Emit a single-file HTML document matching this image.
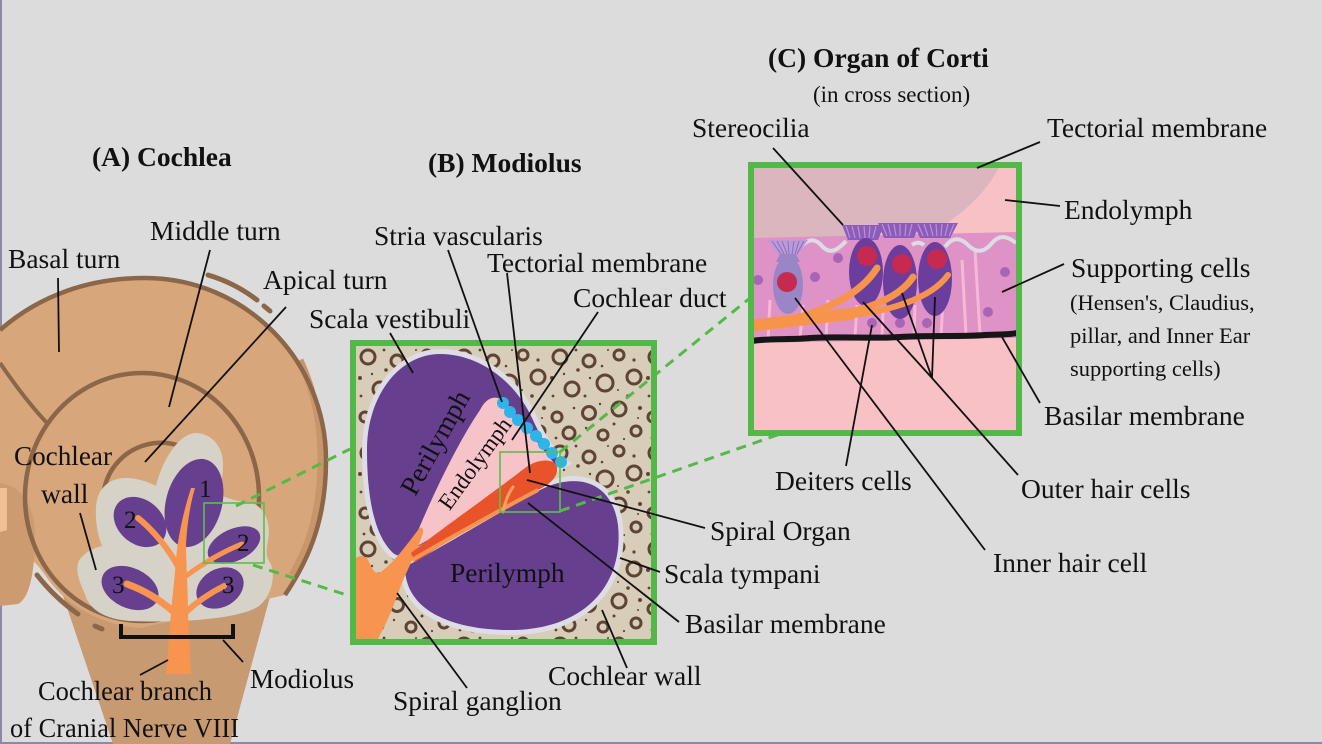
<!DOCTYPE html>
<html>
<head>
<meta charset="utf-8">
<style>
html,body{margin:0;padding:0;background:#dcdcdc;}
svg{display:block;}
text{font-family:"Liberation Serif","Times New Roman",serif;fill:#111;}
</style>
</head>
<body>
<svg width="1322" height="744" viewBox="0 0 1322 744" xmlns="http://www.w3.org/2000/svg">
<defs>
  <pattern id="bone" x="356" y="346" width="96" height="96" patternUnits="userSpaceOnUse">
    <rect width="96" height="96" fill="#d7cdb9"/>
    <g fill="none" stroke="#5f4433" stroke-width="3">
      <circle cx="12" cy="11" r="7"/>
      <circle cx="41" cy="15" r="6"/>
      <circle cx="71" cy="9" r="5"/>
      <circle cx="86" cy="31" r="7"/>
      <circle cx="57" cy="37" r="8"/>
      <circle cx="24" cy="43" r="7"/>
      <circle cx="9" cy="71" r="5"/>
      <circle cx="41" cy="67" r="6.5"/>
      <circle cx="71" cy="63" r="7"/>
      <circle cx="88" cy="85" r="5"/>
      <circle cx="21" cy="87" r="6"/>
      <circle cx="55" cy="89" r="5"/>
    </g>
    <g fill="#5f4433">
      <circle cx="30" cy="24" r="1.8"/>
      <circle cx="54" cy="20" r="1.3"/>
      <circle cx="4" cy="32" r="2"/>
      <circle cx="37" cy="50" r="1.5"/>
      <circle cx="80" cy="50" r="1.8"/>
      <circle cx="26" cy="62" r="1.3"/>
      <circle cx="92" cy="62" r="2"/>
      <circle cx="16" cy="28" r="1.2"/>
      <circle cx="28" cy="4" r="1.4"/>
      <circle cx="42" cy="32" r="1.2"/>
      <circle cx="5" cy="50" r="1.4"/>
      <circle cx="60" cy="4" r="1"/>
      <circle cx="86" cy="14" r="1.6"/>
      <circle cx="66" cy="78" r="1.5"/>
      <circle cx="38" cy="82" r="1.2"/>
      <circle cx="8" cy="92" r="1.4"/>
      <circle cx="76" cy="93" r="1.1"/>
      <circle cx="90" cy="72" r="1"/>
      <circle cx="52" cy="58" r="1.2"/>
      <circle cx="70" cy="44" r="1"/>
    </g>
  </pattern>
  <clipPath id="clipB"><rect x="356" y="346" width="295" height="293"/></clipPath>
  <clipPath id="clipC"><rect x="754" y="168" width="262" height="262"/></clipPath>
</defs>

<rect width="1322" height="744" fill="#dcdcdc"/>
<rect x="0" y="0" width="2" height="744" fill="#8c89a6"/>
<rect x="0" y="742" width="1322" height="2" fill="#8c89a6"/>

<!-- ===== PANEL A: Cochlea ===== -->
<polygon points="51,560 280,560 230,744 113,744" fill="#c89a72"/>
<path d="M0,330 C40,295 90,278 145,278 C245,278 326,360 326,460 C326,515 312,555 285,595 L140,628 C100,625 65,605 45,575 C35,560 20,548 0,545 Z" fill="#d8a67b"/>
<path d="M0,483 C20,485 35,505 35,535 C35,570 30,598 18,604 L0,606 Z" fill="#cd9b70"/>
<path d="M0,488 L7,488 L7,530 L0,532 Z" fill="#f0c195"/>
<path d="M300,360 C316,395 322,430 321,465 C320,510 310,545 292,575" fill="none" stroke="#c9966c" stroke-width="7"/>
<path d="M0,330 C40,295 90,278 145,278 C245,278 326,360 326,460 C326,515 312,555 285,595" fill="none" stroke="#8b6648" stroke-width="4.5"/>
<path d="M0,363 C15,385 30,405 47,423" fill="none" stroke="#8b6648" stroke-width="4"/>
<ellipse cx="142" cy="497" rx="117" ry="124" fill="none" stroke="#8b6648" stroke-width="4.5"/>
<path d="M104,490 A58 58 0 0 1 205,463" fill="none" stroke="#8b6648" stroke-width="4.5"/>
<path d="M208,275 Q235,283 257,300" fill="none" stroke="#8b6648" stroke-width="5" stroke-linecap="round"/>
<path d="M264,306 L270,311" fill="none" stroke="#8b6648" stroke-width="5" stroke-linecap="round"/>
<path d="M37,575 Q55,598 78,614" fill="none" stroke="#8b6648" stroke-width="5" stroke-linecap="round"/>
<path d="M95,626 L102,629" fill="none" stroke="#8b6648" stroke-width="5" stroke-linecap="round"/>

<path d="M195,433 C212,433 223,447 223,464 C223,476 221,486 218,494 C230,500 242,502 252,503 C266,508 271,525 268,540 C266,551 266,556 269,561 C277,573 272,596 259,606 C240,619 180,623 130,621 C100,619 88,606 85,594 C79,581 74,568 80,559 C86,551 95,548 102,546 C97,534 94,514 97,500 C100,486 112,478 125,478 C138,478 148,482 156,486 C161,465 176,435 195,433 Z" fill="#d6d2c7"/>

<g fill="#663f8f">
  <ellipse cx="194" cy="503" rx="28" ry="45" transform="rotate(15 194 503)"/>
  <ellipse cx="140" cy="522" rx="29" ry="22" transform="rotate(40 140 522)"/>
  <ellipse cx="234" cy="545" rx="28" ry="16" transform="rotate(-25 234 545)"/>
  <ellipse cx="130" cy="588" rx="30" ry="20" transform="rotate(25 130 588)"/>
  <ellipse cx="220" cy="588" rx="25" ry="19" transform="rotate(-30 220 588)"/>
</g>
<path d="M166,674 L191,674 L188,612 C188,590 186,560 186,545 C187,525 190,505 195,488 L191,488 C184,510 178,535 176,560 C174,585 172,600 171,612 Z" fill="#f7944f"/>
<g fill="none" stroke="#f7944f" stroke-linecap="round">
  <path d="M179,568 C168,548 153,530 138,518" stroke-width="6"/>
  <path d="M186,576 C205,562 222,552 242,544" stroke-width="5"/>
  <path d="M174,612 C160,600 144,590 127,584" stroke-width="7"/>
  <path d="M186,612 C198,601 210,593 224,586" stroke-width="6"/>
</g>
<g font-size="25">
  <text x="199" y="497">1</text>
  <text x="124" y="528">2</text>
  <text x="237" y="551">2</text>
  <text x="112" y="593">3</text>
  <text x="222" y="593">3</text>
</g>
<path d="M121,624 L121,637 L233,637 L233,624" fill="none" stroke="#111" stroke-width="4"/>
<rect x="204" y="503" width="60" height="60" fill="none" stroke="#5cbf4a" stroke-width="1.6"/>

<!-- ===== PANEL B: Modiolus ===== -->
<g clip-path="url(#clipB)">
  <rect x="353" y="343" width="301" height="299" fill="url(#bone)"/>
  <path d="M440,354 C478,354 515,380 533,420 C542,440 552,455 563,463 L412,550 C405,556 398,558 392,552 C375,535 367,500 367,450 C367,395 400,354 440,354 Z" fill="#dedde6" stroke="#dedde6" stroke-width="10"/>
  <path d="M405,567 C445,545 495,515 540,490 C575,472 612,480 618,525 C624,585 585,628 515,630 C455,631 405,612 405,567 Z" fill="#dedde6" stroke="#dedde6" stroke-width="10"/>
  <path d="M440,354 C478,354 515,380 533,420 C542,440 552,455 563,463 L412,550 C405,556 398,558 392,552 C375,535 367,500 367,450 C367,395 400,354 440,354 Z" fill="#663f8f"/>
  <path d="M405,567 C445,545 495,515 540,490 C575,472 612,480 618,525 C624,585 585,628 515,630 C455,631 405,612 405,567 Z" fill="#663f8f"/>
  <path d="M498,398 C490,396 484,402 480,410 C458,442 430,500 410,550 L558,468 L505,402 Z" fill="#f6c3c8"/>
  <g fill="#2db4e8">
    <circle cx="503" cy="403" r="6"/>
    <circle cx="510" cy="412" r="6"/>
    <circle cx="518" cy="420" r="6"/>
    <circle cx="527" cy="428" r="6"/>
    <circle cx="536" cy="436" r="6"/>
    <circle cx="544" cy="444" r="6"/>
    <circle cx="552" cy="453" r="6"/>
    <circle cx="561" cy="462" r="6"/>
  </g>
  <path d="M352,643 L352,566 C353,556 363,553 368,560 C372,568 375,576 381,572 C394,562 406,546 418,530 C420,526 424,527 423,533 C418,548 410,565 404,578 C397,595 392,612 384,627 L376,643 Z" fill="#f7944f"/>
  <path d="M411,553 C440,530 490,495 525,468 C538,458 556,458 557,468 C558,478 548,486 535,491 C500,510 450,540 415,562 Z" fill="#e9532a"/>
  <path d="M412,560 C450,538 500,510 538,490" fill="none" stroke="#f7944f" stroke-width="4"/>
  <path d="M503,512 C505,502 508,494 513,487" fill="none" stroke="#f7a060" stroke-width="3" stroke-linecap="round"/>
</g>
<rect x="353" y="343" width="301" height="299" fill="none" stroke="#52b847" stroke-width="6"/>
<rect x="500" y="452" width="60" height="60" fill="none" stroke="#5cbf4a" stroke-width="1.6"/>
<text font-size="27.5" transform="translate(443 447) rotate(-61)" text-anchor="middle">Perilymph</text>
<text font-size="23" transform="translate(481 468) rotate(-54)" text-anchor="middle">Endolymph</text>
<text x="450" y="582" font-size="27.5">Perilymph</text>

<!-- ===== PANEL C: Organ of Corti ===== -->
<g clip-path="url(#clipC)">
  <rect x="751" y="165" width="268" height="268" fill="#f8c1c6"/>
  <path d="M751,165 L1000,165 C990,186 972,207 940,228 L751,244 Z" fill="#dbb6be"/>
  <path d="M752,238 L1017,232 L1017,338 L752,343 Z" fill="#df92c6"/>
  <g stroke="#f4bad4" stroke-width="3" fill="none">
    <path d="M803,305 L800,338"/>
    <path d="M828,300 L826,338"/>
    <path d="M857,305 L855,337"/>
    <path d="M883,310 L882,337"/>
    <path d="M915,305 L914,337"/>
    <path d="M943,300 L941,336"/>
    <path d="M962,260 L966,335"/>
    <path d="M975,250 L980,335"/>
    <path d="M770,300 L768,340"/>
  </g>
  <g fill="#a865b5">
    <circle cx="758" cy="280" r="5"/>
    <circle cx="815" cy="277" r="5"/>
    <circle cx="838" cy="258" r="5"/>
    <circle cx="872" cy="323" r="5"/>
    <circle cx="900" cy="323" r="5"/>
    <circle cx="927" cy="323" r="5"/>
    <circle cx="988" cy="312" r="5"/>
    <circle cx="1005" cy="272" r="5"/>
  </g>
  <path d="M800,248 C808,238 815,238 822,246 C829,254 836,252 846,241" fill="none" stroke="#dcdce4" stroke-width="4"/>
  <path d="M945,247 C952,237 960,237 968,245 C976,253 984,253 992,243 C999,235 1006,235 1016,243" fill="none" stroke="#dcdce4" stroke-width="4"/>
  <path d="M912,245 C916,242 920,242 924,245" fill="none" stroke="#dcdce4" stroke-width="4"/>
  <path d="M768,240 L808,240 L797,256 L779,256 Z" fill="#b99bd8"/>
  <g stroke="#8e6cc0" stroke-width="1">
    <path d="M772,241 L781,254"/><path d="M777,241 L784,254"/><path d="M782,241 L787,254"/>
    <path d="M788,241 L789,254"/><path d="M794,241 L792,254"/><path d="M799,241 L795,254"/><path d="M804,241 L797,254"/>
  </g>
  <path d="M780,254 L796,254 L800,262 L776,262 Z" fill="#9a85c6"/>
  <ellipse cx="788" cy="285" rx="15" ry="29" fill="#9a85c6"/>
  <circle cx="787" cy="282" r="10" fill="#c62a50"/>
  <g fill="#8c5cb8">
    <path d="M842,225 L884,225 L878,240 L848,240 Z"/>
    <path d="M878,223 L920,223 L914,238 L884,238 Z"/>
    <path d="M913,223 L958,223 L950,238 L920,238 Z"/>
  </g>
  <g stroke="#b892dc" stroke-width="1.2">
    <path d="M846,226 L850,238"/><path d="M852,226 L855,238"/><path d="M858,226 L860,238"/><path d="M864,226 L865,238"/><path d="M870,226 L869,238"/><path d="M876,226 L873,238"/>
    <path d="M882,224 L887,236"/><path d="M888,224 L891,236"/><path d="M894,224 L896,236"/><path d="M900,224 L900,236"/><path d="M906,224 L905,236"/><path d="M912,224 L909,236"/>
    <path d="M918,224 L923,236"/><path d="M924,224 L928,236"/><path d="M930,224 L933,236"/><path d="M936,224 L937,236"/><path d="M942,224 L941,236"/><path d="M948,224 L945,236"/><path d="M954,224 L949,236"/>
  </g>
  <g fill="#6b3d9c">
    <ellipse cx="866" cy="272" rx="17" ry="34"/>
    <ellipse cx="900" cy="282" rx="17" ry="37"/>
    <ellipse cx="935" cy="279" rx="17" ry="37"/>
  </g>
  <g fill="#c62a50">
    <circle cx="867" cy="256" r="10"/>
    <circle cx="902" cy="264" r="10"/>
    <circle cx="937" cy="259" r="10"/>
  </g>
  <g fill="none" stroke="#f7944c" stroke-linecap="round">
    <path d="M752,326 C780,322 815,318 850,314" stroke-width="12"/>
    <path d="M790,320 C825,310 860,295 877,268" stroke-width="7"/>
    <path d="M820,318 C860,312 898,300 913,277" stroke-width="7"/>
    <path d="M845,316 C885,312 930,300 948,275" stroke-width="6"/>
  </g>
  <path d="M752,341 C770,338 790,340 810,338 C840,336 870,339 900,337 C930,335 960,337 985,335 C1000,334 1010,335 1017,333" fill="none" stroke="#161616" stroke-width="6"/>
</g>
<rect x="751" y="165" width="268" height="268" fill="none" stroke="#52b847" stroke-width="6"/>

<g stroke="#55b947" stroke-width="3" stroke-dasharray="10 7" fill="none">
  <path d="M236,506 L350,449"/>
  <path d="M253,565 L350,596"/>
  <path d="M560,452 L750,298"/>
  <path d="M560,511 L780,434"/>
</g>

<g stroke="#111" stroke-width="1.8" fill="none">
  <path d="M58,278 L59,352"/>
  <path d="M210,250 L169,407"/>
  <path d="M286,307 L145,462"/>
  <path d="M80,513 L96,570"/>
  <path d="M223,640 L243,662"/>
  <path d="M140,675 L168,660"/>

  <path d="M390,333 L413,373"/>
  <path d="M448,250 L502,402"/>
  <path d="M507,273 L530,473"/>
  <path d="M598,312 L512,440"/>
  <path d="M527,480 L705,528"/>
  <path d="M528,503 L679,622"/>
  <path d="M620,558 L660,572"/>
  <path d="M602,610 L627,668"/>
  <path d="M397,593 L467,688"/>

  <path d="M773,148 L843,225"/>
  <path d="M1040,142 L977,168"/>
  <path d="M1005,200 L1060,206"/>
  <path d="M1002,292 L1064,264"/>
  <path d="M1002,337 L1040,403"/>
  <path d="M872,325 L846,466"/>
  <path d="M795,298 L985,550"/>
  <path d="M863,302 L932,378"/>
  <path d="M902,293 L932,378"/>
  <path d="M935,297 L932,378"/>
  <path d="M932,378 L1018,475"/>
</g>

<g font-size="27.5">
  <text x="92" y="166" font-weight="bold">(A) Cochlea</text>
  <text x="8" y="268">Basal turn</text>
  <text x="150" y="240">Middle turn</text>
  <text x="263" y="289">Apical turn</text>
  <text x="14" y="465" textLength="98" lengthAdjust="spacingAndGlyphs">Cochlear</text>
  <text x="41" y="503">wall</text>
  <text x="250" y="688" textLength="104" lengthAdjust="spacingAndGlyphs">Modiolus</text>
  <text x="38" y="700" textLength="174" lengthAdjust="spacingAndGlyphs">Cochlear branch</text>
  <text x="10" y="737" textLength="229" lengthAdjust="spacingAndGlyphs">of Cranial Nerve VIII</text>

  <text x="428" y="172" font-weight="bold">(B) Modiolus</text>
  <text x="374" y="245">Stria vascularis</text>
  <text x="487" y="272">Tectorial membrane</text>
  <text x="573" y="307">Cochlear duct</text>
  <text x="309" y="328">Scala vestibuli</text>
  <text x="710" y="540">Spiral Organ</text>
  <text x="664" y="583">Scala tympani</text>
  <text x="685" y="633">Basilar membrane</text>
  <text x="548" y="685">Cochlear wall</text>
  <text x="393" y="710">Spiral ganglion</text>

  <text x="768" y="67" font-weight="bold">(C) Organ of Corti</text>
  <text x="692" y="137">Stereocilia</text>
  <text x="1047" y="137">Tectorial membrane</text>
  <text x="1064" y="219">Endolymph</text>
  <text x="1071" y="277">Supporting cells</text>
  <text x="1044" y="425">Basilar membrane</text>
  <text x="775" y="490">Deiters cells</text>
  <text x="1021" y="498">Outer hair cells</text>
  <text x="993" y="572">Inner hair cell</text>
</g>
<text x="813" y="102" font-size="23">(in cross section)</text>
<g font-size="22.5">
  <text x="1070" y="310">(Hensen's, Claudius,</text>
  <text x="1070" y="343">pillar, and Inner Ear</text>
  <text x="1070" y="376">supporting cells)</text>
</g>
</svg>
</body>
</html>
